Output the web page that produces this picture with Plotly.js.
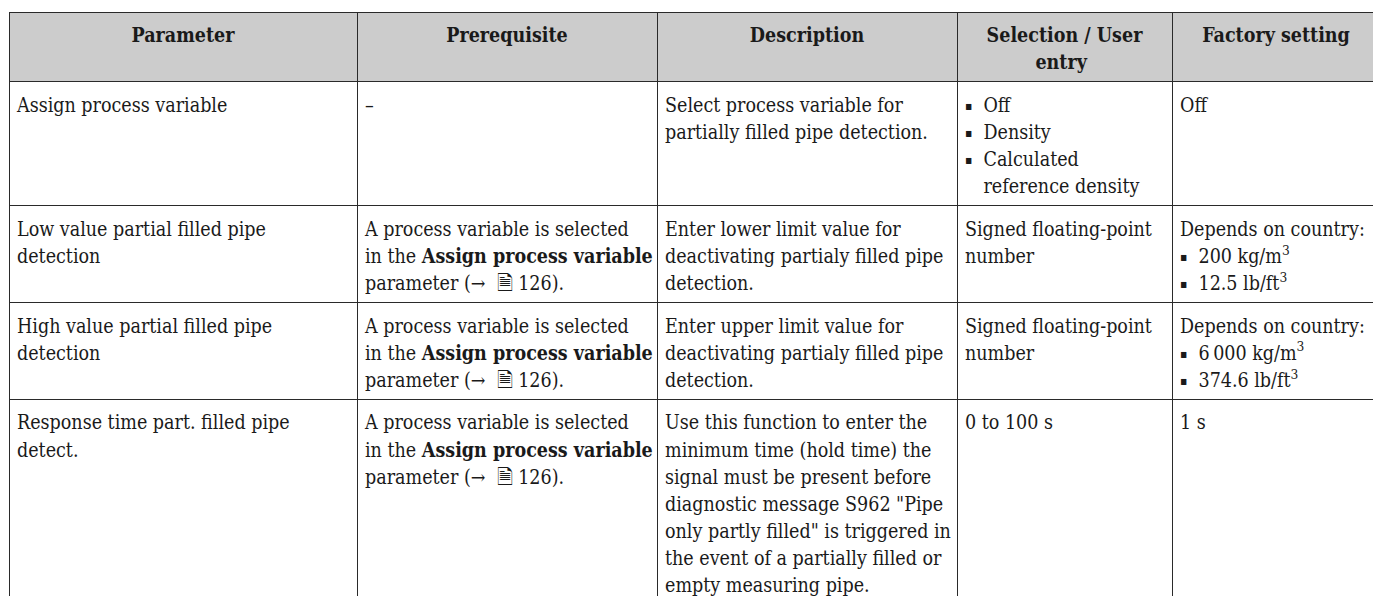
<!DOCTYPE html>
<html>
<head>
<meta charset="utf-8">
<script src="https://cdn.plot.ly/plotly-3.0.1.min.js"></script>
<style>
  html, body { margin: 0; padding: 0; background: #ffffff; overflow: hidden; }
  #chart { width: 1380px; height: 596px; }
</style>
</head>
<body>
<div id="chart"></div>
<script>
// ---- data ----
var headers = ["Parameter", "Prerequisite", "Description", "Selection / User<br>entry", "Factory setting"];

var parameters = [
  "Assign process variable",
  "Low value partial filled pipe<br>detection",
  "High value partial filled pipe<br>detection",
  "Response time part. filled pipe<br>detect."
];

var prerequisites = [
  "\u2013",
  "A process variable is selected<br>in the <b>Assign process variable</b><br>parameter (\u2192 \u00a0\uD83D\uDDCE 126).",
  "A process variable is selected<br>in the <b>Assign process variable</b><br>parameter (\u2192 \u00a0\uD83D\uDDCE 126).",
  "A process variable is selected<br>in the <b>Assign process variable</b><br>parameter (\u2192 \u00a0\uD83D\uDDCE 126)."
];

var descriptions = [
  "Select process variable for<br>partially filled pipe detection.",
  "Enter lower limit value for<br>deactivating partialy filled pipe<br>detection.",
  "Enter upper limit value for<br>deactivating partialy filled pipe<br>detection.",
  "Use this function to enter the<br>minimum time (hold time) the<br>signal must be present before<br>diagnostic message S962 \"Pipe<br>only partly filled\" is triggered in<br>the event of a partially filled or<br>empty measuring pipe."
];

var selections = [
  "\u25AA\u00a0\u00a0Off<br>\u25AA\u00a0\u00a0Density<br>\u25AA\u00a0\u00a0Calculated<br>\u00a0\u00a0\u00a0\u200areference density",
  "Signed floating-point<br>number",
  "Signed floating-point<br>number",
  "0 to 100 s"
];

var factorySettings = [
  "Off",
  "Depends on country:<br>\u25AA\u00a0\u00a0200 kg/m<sup>3</sup><br>\u25AA\u00a0\u00a012.5 lb/ft<sup>3</sup>",
  "Depends on country:<br>\u25AA\u00a0\u00a06\u2009000 kg/m<sup>3</sup><br>\u25AA\u00a0\u00a0374.6 lb/ft<sup>3</sup>",
  "1 s"
];

var columnWidths = [348, 300, 300, 215, 208];

// ---- build ----
var FAMILY = "'DejaVu Serif Condensed', 'DejaVu Serif'";
var TEXT_PX = 19.5;
var SHIFT = 3.5;   // extra top padding inside each cell

function sized(s, symmetricSpacer) {
  var lines = s.split('<br>');
  var spacer = '<span style="font-size:' + TEXT_PX + 'px">\u00a0</span>';
  var out = lines.map(function (l, i) {
    l = l.replace(/\u25AA/g, '<span style="font-size:12px;baseline-shift:1.5px">\u25AA</span>');
    var t = '<span style="font-size:' + TEXT_PX + 'px;baseline-shift:-' + SHIFT + 'px">' + l + '</span>';
    if (i === 0) t = (symmetricSpacer ? spacer : '') + t + spacer;
    return t;
  }).join('<br>');
  if (lines.length === 1) out += '<br>';   // keep single lines from being re-wrapped
  return out;
}

// centre every line of a multi-line header by padding shorter lines
var ctx = document.createElement('canvas').getContext('2d');
ctx.font = 'bold ' + TEXT_PX + 'px ' + FAMILY;
function centredLines(s) {
  var lines = s.split('<br>');
  if (lines.length === 1) return s;
  var widths = lines.map(function (l) { return ctx.measureText(l).width; });
  var maxW = Math.max.apply(null, widths);
  var padW = ctx.measureText('\u00a0').width;
  return lines.map(function (l, i) {
    var n = Math.round((maxW - widths[i]) / 2 / padW);
    return new Array(n + 1).join('\u00a0') + l;
  }).join('<br>');
}

var headerVals = headers.map(function (h) { return ['<b>' + sized(centredLines(h), true) + '</b>']; });
var cellCols = [parameters, prerequisites, descriptions, selections, factorySettings].map(function (col) {
  return col.map(function (s) { return sized(s, false); });
});

var trace = {
  type: 'table',
  columnwidth: columnWidths,
  domain: {x: [0, 1], y: [0, 1]},
  header: {
    values: headerVals,
    align: 'center',
    fill: {color: '#cccccc'},
    line: {color: '#2a2a2a', width: 1},
    font: {family: FAMILY, size: 20.9, color: '#1a1a1a'},
    height: 20
  },
  cells: {
    values: cellCols,
    align: 'left',
    fill: {color: '#ffffff'},
    line: {color: '#2a2a2a', width: 1},
    font: {family: FAMILY, size: 20.9, color: '#1a1a1a'},
    height: 20
  }
};

var layout = {
  width: 1380,
  height: 596,
  margin: {l: 9, r: 0, t: 12, b: 0},
  paper_bgcolor: '#ffffff',
  showlegend: false
};

Plotly.newPlot('chart', [trace], layout, {displayModeBar: false});
</script>
</body>
</html>
